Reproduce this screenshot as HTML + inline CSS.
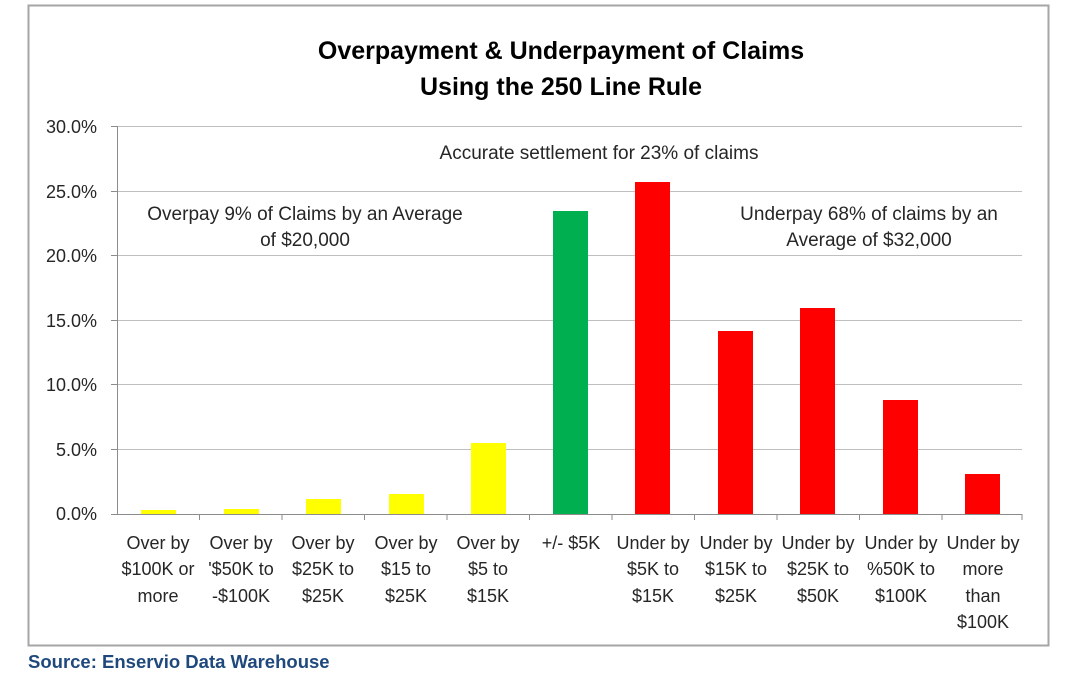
<!DOCTYPE html>
<html><head><style>body{margin:0;background:#fff}svg text{font-family:"Liberation Sans",sans-serif}</style></head><body>
<svg width="1075" height="683" xmlns="http://www.w3.org/2000/svg">
<rect x="28.5" y="5.5" width="1020" height="640" fill="#fff" stroke="#a6a6a6" stroke-width="2"/>
<text x="561" y="59" font-size="25" font-weight="bold" text-anchor="middle" fill="#000">Overpayment &amp; Underpayment of Claims</text>
<text x="561" y="95" font-size="25" font-weight="bold" text-anchor="middle" fill="#000">Using the 250 Line Rule</text>
<g stroke="#bfbfbf" stroke-width="1">
<line x1="117" x2="1022" y1="126.5" y2="126.5"/><line x1="117" x2="1022" y1="191.5" y2="191.5"/><line x1="117" x2="1022" y1="255.5" y2="255.5"/><line x1="117" x2="1022" y1="320.5" y2="320.5"/><line x1="117" x2="1022" y1="384.5" y2="384.5"/><line x1="117" x2="1022" y1="449.5" y2="449.5"/>
</g>
<g stroke="#8c8c8c" stroke-width="1">
<line x1="117.5" x2="117.5" y1="126" y2="514"/><line x1="111" x2="1022" y1="514.5" y2="514.5"/>
<line x1="111" x2="117" y1="126.5" y2="126.5"/><line x1="111" x2="117" y1="191.5" y2="191.5"/><line x1="111" x2="117" y1="255.5" y2="255.5"/><line x1="111" x2="117" y1="320.5" y2="320.5"/><line x1="111" x2="117" y1="384.5" y2="384.5"/><line x1="111" x2="117" y1="449.5" y2="449.5"/>
</g>
<g font-size="18" fill="#262626" text-anchor="end">
<text x="97" y="133">30.0%</text><text x="97" y="198">25.0%</text><text x="97" y="262">20.0%</text><text x="97" y="327">15.0%</text><text x="97" y="391">10.0%</text><text x="97" y="456">5.0%</text><text x="97" y="520">0.0%</text>
</g>
<g stroke="#8c8c8c"><line x1="199.5" x2="199.5" y1="514" y2="520"/><line x1="282" x2="282" y1="514" y2="520"/><line x1="364.5" x2="364.5" y1="514" y2="520"/><line x1="447" x2="447" y1="514" y2="520"/><line x1="529.5" x2="529.5" y1="514" y2="520"/><line x1="612" x2="612" y1="514" y2="520"/><line x1="694.5" x2="694.5" y1="514" y2="520"/><line x1="777" x2="777" y1="514" y2="520"/><line x1="859.5" x2="859.5" y1="514" y2="520"/><line x1="942" x2="942" y1="514" y2="520"/><line x1="1022" x2="1022" y1="514" y2="520"/></g>
<rect x="141" y="510" width="35" height="4" fill="#ffff00"/>
<rect x="224" y="509" width="35" height="5" fill="#ffff00"/>
<rect x="306" y="499" width="35" height="15" fill="#ffff00"/>
<rect x="389" y="494" width="35" height="20" fill="#ffff00"/>
<rect x="471" y="443" width="35" height="71" fill="#ffff00"/>
<rect x="553" y="211" width="35" height="303" fill="#00b050"/>
<rect x="635" y="182" width="35" height="332" fill="#ff0000"/>
<rect x="718" y="331" width="35" height="183" fill="#ff0000"/>
<rect x="800" y="308" width="35" height="206" fill="#ff0000"/>
<rect x="883" y="400" width="35" height="114" fill="#ff0000"/>
<rect x="965" y="474" width="35" height="40" fill="#ff0000"/>
<g font-size="19" fill="#262626" text-anchor="middle">
<text x="599" y="159">Accurate settlement for 23% of claims</text>
<text x="305" y="220">Overpay 9% of Claims by an Average</text>
<text x="305" y="246">of $20,000</text>
<text x="869" y="220">Underpay 68% of claims by an</text>
<text x="869" y="246">Average of $32,000</text>
</g>
<g font-size="18" fill="#262626" text-anchor="middle">
<text x="158" y="549">Over by</text><text x="158" y="575">$100K or</text><text x="158" y="602">more</text>
<text x="241" y="549">Over by</text><text x="241" y="575">'$50K to</text><text x="241" y="602">-$100K</text>
<text x="323" y="549">Over  by</text><text x="323" y="575">$25K to</text><text x="323" y="602">$25K</text>
<text x="406" y="549">Over by</text><text x="406" y="575">$15 to</text><text x="406" y="602">$25K</text>
<text x="488" y="549">Over by</text><text x="488" y="575">$5 to</text><text x="488" y="602">$15K</text>
<text x="571" y="549">+/- $5K</text>
<text x="653" y="549">Under by</text><text x="653" y="575">$5K to</text><text x="653" y="602">$15K</text>
<text x="736" y="549">Under by</text><text x="736" y="575">$15K to</text><text x="736" y="602">$25K</text>
<text x="818" y="549">Under by</text><text x="818" y="575">$25K to</text><text x="818" y="602">$50K</text>
<text x="901" y="549">Under by</text><text x="901" y="575">%50K to</text><text x="901" y="602">$100K</text>
<text x="983" y="549">Under by</text><text x="983" y="575">more</text><text x="983" y="602">than</text><text x="983" y="628">$100K</text>
</g>
<text x="28" y="668" font-size="18.5" font-weight="bold" fill="#1f497d">Source: Enservio Data Warehouse</text>
</svg>
</body></html>
